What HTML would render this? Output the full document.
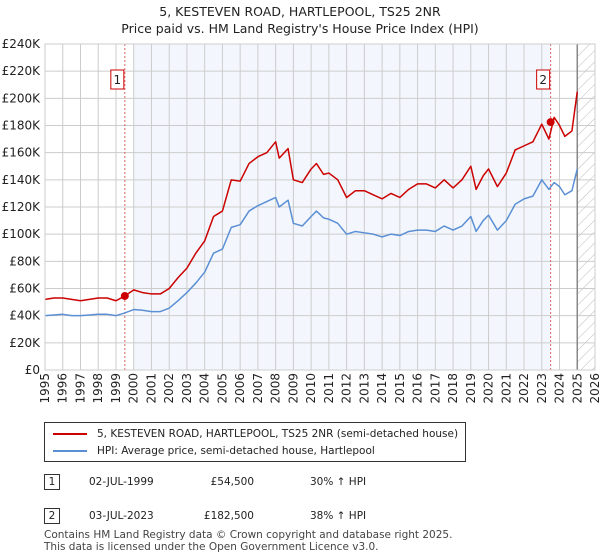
<!DOCTYPE html>
<html><head><meta charset="utf-8"><style>
body{margin:0;width:600px;height:560px;background:#fff;font-family:"DejaVu Sans","Liberation Sans",sans-serif;overflow:hidden;position:relative}
.t{position:absolute;left:0;width:600px;text-align:center;font-size:12.5px;color:#222}
.abs{position:absolute;font-size:10.5px;color:#222}
</style></head><body>
<div class="t" style="top:4px">5, KESTEVEN ROAD, HARTLEPOOL, TS25 2NR</div>
<div class="t" style="top:21px">Price paid vs. HM Land Registry's House Price Index (HPI)</div>
<svg id="ch" width="600" height="410" style="position:absolute;left:0;top:0" font-family="DejaVu Sans, sans-serif"></svg>
<div style="position:absolute;left:44px;top:422px;width:422px;height:40px;border:1px solid #333;box-sizing:border-box">
 <div style="position:absolute;left:8px;top:5px;font-size:10.5px;color:#222;white-space:nowrap"><span style="display:inline-block;width:34px;height:2px;background:#cc0000;vertical-align:middle;margin-right:10px"></span>5, KESTEVEN ROAD, HARTLEPOOL, TS25 2NR (semi-detached house)</div>
 <div style="position:absolute;left:8px;top:22px;font-size:10.5px;color:#222;white-space:nowrap"><span style="display:inline-block;width:34px;height:2px;background:#5b8fd4;vertical-align:middle;margin-right:10px"></span>HPI: Average price, semi-detached house, Hartlepool</div>
</div>
<div class="abs" style="left:44px;top:474px;width:16px;height:16px;border:1px solid #333;box-sizing:border-box;text-align:center;line-height:14px">1</div>
<div class="abs" style="left:89px;top:476px">02-JUL-1999</div>
<div class="abs" style="left:180px;width:74px;text-align:right;top:476px">£54,500</div>
<div class="abs" style="left:310px;top:476px">30% ↑ HPI</div>
<div class="abs" style="left:44px;top:508px;width:16px;height:16px;border:1px solid #333;box-sizing:border-box;text-align:center;line-height:14px">2</div>
<div class="abs" style="left:89px;top:510px">03-JUL-2023</div>
<div class="abs" style="left:180px;width:74px;text-align:right;top:510px">£182,500</div>
<div class="abs" style="left:310px;top:510px">38% ↑ HPI</div>
<div class="abs" style="left:44px;top:529px;font-size:10.5px;line-height:12px;color:#444;white-space:nowrap">Contains HM Land Registry data © Crown copyright and database right 2025.<br>This data is licensed under the Open Government Licence v3.0.</div>
<script>
const yTicks=[0,20,40,60,80,100,120,140,160,180,200,220,240];
const xYears=[1995,1996,1997,1998,1999,2000,2001,2002,2003,2004,2005,2006,2007,2008,2009,2010,2011,2012,2013,2014,2015,2016,2017,2018,2019,2020,2021,2022,2023,2024,2025,2026];
const dates=[1995,1995.5,1996,1996.5,1997,1997.5,1998,1998.5,1999,1999.5,2000,2000.5,2001,2001.5,2002,2002.5,2003,2003.5,2004,2004.5,2005,2005.5,2006,2006.5,2007,2007.5,2008,2008.2,2008.7,2009,2009.5,2010,2010.3,2010.7,2011,2011.5,2012,2012.5,2013,2013.5,2014,2014.5,2015,2015.5,2016,2016.5,2017,2017.5,2018,2018.5,2019,2019.3,2019.7,2020,2020.5,2021,2021.5,2022,2022.5,2023,2023.4,2023.7,2024,2024.3,2024.7,2025];
const hpi=[40,40.5,41,40,40,40.5,41,41,40,42,44.5,44,43,43,45.5,51,57,64,72,86,89,105,107,117,121,124,127,120,125,108,106,113,117,112,111,108,100,102,101,100,98,100,99,102,103,103,102,106,103,106,113,102,110,114,103,110,122,126,128,140,133,138,135,129,132,148];
const price=[52,53,53,52,51,52,53,53,51,54.5,59,57,56,56,60,68,75,86,95,113,117,140,139,152,157,160,168,156,163,140,138,148,152,144,145,140,127,132,132,129,126,130,127,133,137,137,134,140,134,140,150,133,143,148,135,145,162,165,168,181,170,186,180,172,176,205];
const sales=[[1999.5,54.5],[2023.5,182.5]];
const L=45,R=595,T=44,B=370;
const x=d=>L+(d-1995)/(2026-1995)*(R-L), y=v=>B-v/240*(B-T);
const s=document.getElementById('ch');const NS='http://www.w3.org/2000/svg';
function el(t,a,p){const e=document.createElementNS(NS,t);for(const k in a)e.setAttribute(k,a[k]);(p||s).appendChild(e);return e;}
let e;
e=el('rect',{x:x(2000),y:T,width:x(2023.5)-x(2000),height:B-T,fill:'#eef3fc',opacity:0.7});


const defs=el('defs',{});const pat=el('pattern',{id:'h',width:8,height:8,patternUnits:'userSpaceOnUse',patternTransform:'rotate(45)'},defs);el('line',{x1:0,y1:0,x2:0,y2:8,stroke:'#bbb','stroke-width':1},pat);
e=el('rect',{x:x(2025),y:T,width:R-x(2025),height:B-T,fill:'url(#h)'});


yTicks.forEach(v=>{
 e=el('line',{x1:L,x2:R,y1:y(v),y2:y(v),stroke:'#ccc'});
 
 
 e=el('text',{x:L-5,y:y(v)+4,'text-anchor':'end','font-size':12,fill:'#222'});e.textContent=v==0?'£0':'£'+v+'K';
 
 
});
xYears.forEach(v=>{
 e=el('line',{x1:x(v),x2:x(v),y1:T,y2:B,stroke:'#ccc'});
 
 
 e=el('text',{x:0,y:0,transform:`translate(${x(v)+4},${B+3}) rotate(-90)`,'text-anchor':'end','font-size':12,fill:'#222'});e.textContent=v;
 
 
});
e=el('line',{x1:x(2025),x2:x(2025),y1:T,y2:B,stroke:'#888','stroke-width':1.5});


sales.forEach((sl,i)=>{
 e=el('line',{x1:x(sl[0]),x2:x(sl[0]),y1:T,y2:B,stroke:'#e06060','stroke-dasharray':'2,2'});
 
 
 const g=el('g',{});
 
 
 el('rect',{x:x(sl[0])-14,y:70,width:13,height:19,fill:'#fff',stroke:'#cc0000'},g);
 const tx=el('text',{x:x(sl[0])-7.5,y:84,'text-anchor':'middle','font-size':12,fill:'#222'},g);tx.textContent=i+1;
});
function line(vals,c,n){const p=el('polyline',{points:dates.map((d,i)=>x(d)+','+y(vals[i])).join(' '),fill:'none',stroke:c,'stroke-width':1.5,'stroke-linejoin':'round'});
 
 }
line(hpi,'#5b8fd4','hpi-line');line(price,'#cc0000','price-line');
sales.forEach(sl=>{e=el('circle',{cx:x(sl[0]),cy:y(sl[1]),r:4,fill:'#cc0000'});
 
 });
e=el('rect',{x:L,y:T,width:R-L,height:B-T,fill:'none',stroke:'#ccc'});


</script>
</body></html>
